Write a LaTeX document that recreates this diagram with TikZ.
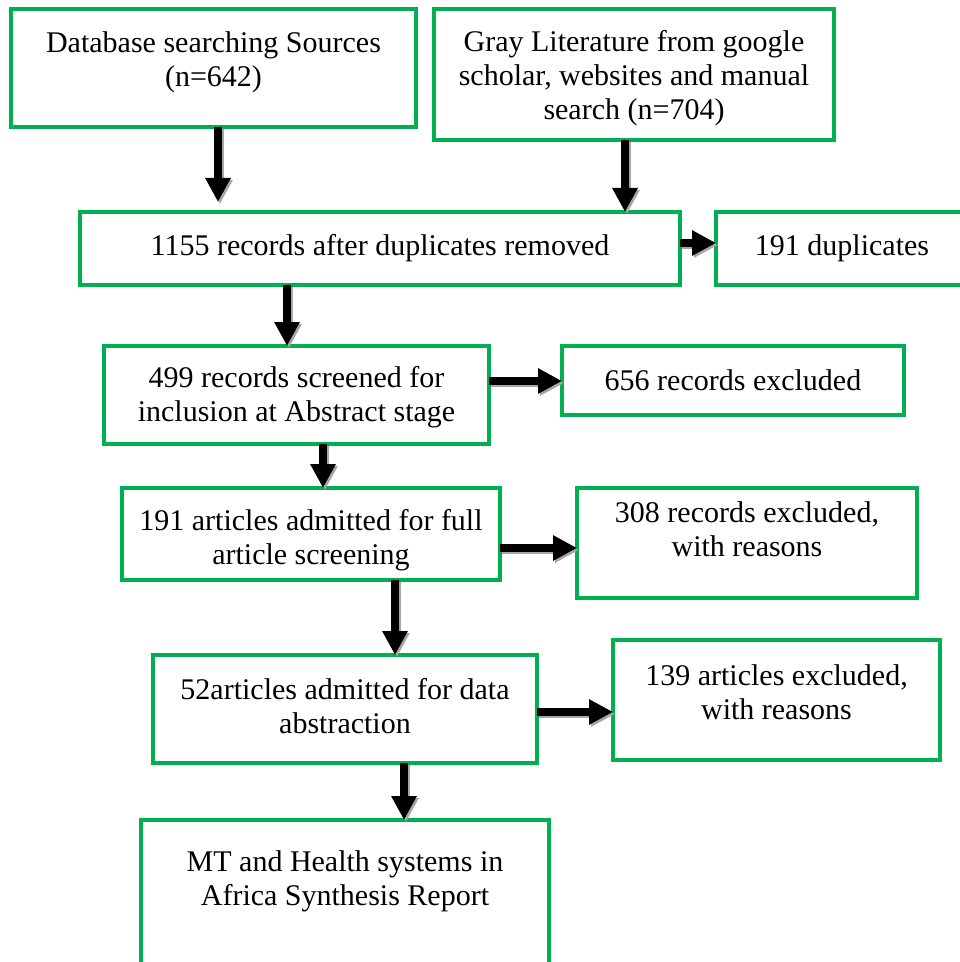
\documentclass[tikz,border=0pt]{standalone}
\usepackage{fontspec}
\setmainfont{Liberation Serif}
\usetikzlibrary{arrows.meta}
\definecolor{boxgreen}{RGB}{0,176,80}
\begin{document}
\begin{tikzpicture}[x=0.75pt,y=-0.75pt,
  box/.style={draw=boxgreen, line width=2.7pt, rectangle, inner sep=0pt, outer sep=0pt, fill=white},
  txt/.style={align=center, inner sep=0pt, font=\fontsize{22.5pt}{25.5pt}\selectfont},
  arr/.style={line width=6pt, black, -{Triangle[width=18pt,length=18pt]},
    preaction={draw=black!35, line width=6pt, -{Triangle[width=18pt,length=18pt]}, transform canvas={shift={(1.5pt,-1.5pt)}}}}
]
\useasboundingbox (0,0) rectangle (959,962);

\node[box, minimum width={405*0.75pt}, minimum height={118*0.75pt}] (b1) at (213.5,68) {};
\node[box, minimum width={400*0.75pt}, minimum height={131*0.75pt}] (b2) at (634,74.5) {};
\node[box, minimum width={600*0.75pt}, minimum height={73*0.75pt}] (b3) at (380,248.5) {};
\node[box, minimum width={254*0.75pt}, minimum height={73*0.75pt}] (b4) at (843,248.5) {};
\node[box, minimum width={385*0.75pt}, minimum height={98*0.75pt}] (b5) at (296.5,395) {};
\node[box, minimum width={342*0.75pt}, minimum height={69*0.75pt}] (b6) at (733,380.5) {};
\node[box, minimum width={378*0.75pt}, minimum height={92*0.75pt}] (b7) at (311,534) {};
\node[box, minimum width={340*0.75pt}, minimum height={110*0.75pt}] (b8) at (747,543) {};
\node[box, minimum width={384*0.75pt}, minimum height={108*0.75pt}] (b9) at (345,709) {};
\node[box, minimum width={327*0.75pt}, minimum height={120*0.75pt}] (b10) at (776.5,700) {};
\node[box, minimum width={408*0.75pt}, minimum height={155*0.75pt}] (b11) at (345,897.5) {};

\node[txt] (t1) at (213.5,62) {Database searching Sources\\(n=642)};
\node[txt] (t2) at (634,78.5) {Gray Literature from google\\scholar, websites and manual\\search (n=704)};
\node[txt] (t3) at (380,248) {1155 records after duplicates removed};
\node[txt] (t4) at (842,248) {191 duplicates};
\node[txt] (t5) at (296.5,397.5) {499 records screened for\\inclusion at Abstract stage};
\node[txt] (t6) at (733,380) {656 records excluded};
\node[txt] (t7) at (311,540) {191 articles admitted for full\\article screening};
\node[txt] (t8) at (747,529) {308 records excluded,\\with reasons};
\node[txt] (t9) at (345,706) {52articles admitted for data\\abstraction};
\node[txt] (t10) at (776.5,692) {139 articles excluded,\\with reasons};
\node[txt] (t11) at (345,881) {MT and Health systems in\\Africa Synthesis Report};

\draw[arr, shorten >=7.5pt] (218,0 |- b1.south) -- (218,0 |- b3.north);
\draw[arr] (625,0 |- b2.south) -- (625,0 |- b3.north);
\draw[arr] (b3.east |- 0,243) -- (b4.west |- 0,243);
\draw[arr] (287,0 |- b3.south) -- (287,0 |- b5.north);
\draw[arr] (b5.east |- 0,381) -- (b6.west |- 0,381);
\draw[arr] (323,0 |- b5.south) -- (323,0 |- b7.north);
\draw[arr] (b7.east |- 0,548) -- (b8.west |- 0,548);
\draw[arr] (395,0 |- b7.south) -- (395,0 |- b9.north);
\draw[arr] (b9.east |- 0,712) -- (b10.west |- 0,712);
\draw[arr] (404,0 |- b9.south) -- (404,0 |- b11.north);
\end{tikzpicture}
\end{document}
